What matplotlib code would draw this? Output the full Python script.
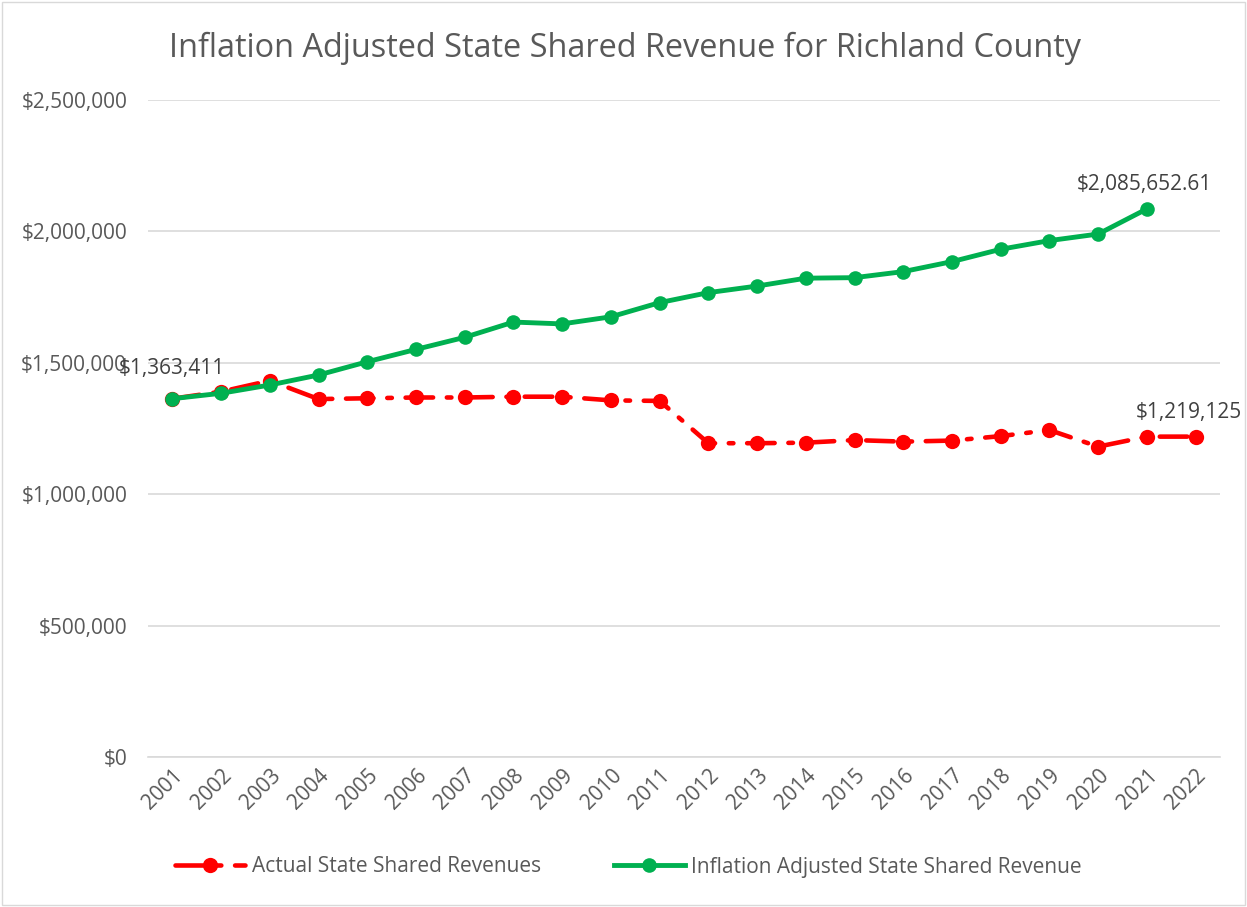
import matplotlib
matplotlib.use("Agg")
import matplotlib.pyplot as plt
from matplotlib.ticker import FuncFormatter, MultipleLocator

years = [str(y) for y in range(2001, 2023)]
actual = [1363411, 1390000, 1432000, 1362000, 1365000, 1368000, 1368000, 1371000,
          1371000, 1357000, 1355000, 1194000, 1194000, 1196000, 1206000, 1200000,
          1204000, 1221000, 1244000, 1181000, 1219000, 1219125]
adjusted = [1363411, 1384000, 1415500, 1453600, 1504000, 1551000, 1597000, 1655000,
            1648000, 1675000, 1729000, 1767000, 1792000, 1822000, 1824000, 1847000,
            1885000, 1932000, 1965000, 1990000, 2085652.61]
title = "Inflation Adjusted State Shared Revenue for Richland County"
label_actual = "Actual State Shared Revenues"
label_adjusted = "Inflation Adjusted State Shared Revenue"

plt.rcParams['font.family'] = ['Open Sans', 'DejaVu Sans']
RED = "#FF0000"
GREEN = "#00B050"
GRAY = "#595959"
FS = 15

fig = plt.figure(figsize=(12.47, 9.07), dpi=100)
ax = fig.add_axes([148/1247, 1-757/907, (1220-148)/1247, (757-100)/907])

x_act = list(range(len(actual)))
x_adj = list(range(len(adjusted)))

ax.plot(x_act, actual, color=RED, lw=3.3, linestyle=(0, (6, 3, 1, 3)),
        marker='o', markersize=11, markeredgewidth=0, label=label_actual,
        dash_capstyle='round', zorder=3)
ax.plot(x_adj, adjusted, color=GREEN, lw=3.5, marker='o', markersize=10.5,
        markeredgewidth=0, label=label_adjusted, zorder=4)

ax.set_xlim(-0.5, len(years) - 0.5)
ax.set_ylim(0, 2500000)
ax.yaxis.set_major_locator(MultipleLocator(500000))
ax.yaxis.set_major_formatter(FuncFormatter(lambda v, p: f"${v:,.0f}"))
ax.set_xticks(range(len(years)))
ax.set_xticklabels(years, rotation=45, ha='right', rotation_mode='anchor')
ax.tick_params(axis='both', length=0, labelsize=FS, colors=GRAY)
ax.tick_params(axis='y', pad=15)
ax.tick_params(axis='x', pad=6)
ax.grid(axis='y', color="#D9D9D9", lw=1.2)
ax.set_axisbelow(True)
for s in ['top', 'right', 'left']:
    ax.spines[s].set_visible(False)
ax.spines['bottom'].set_color("#D9D9D9")
ax.spines['bottom'].set_linewidth(1.2)

# data labels
ax.annotate(f"${adjusted[0]:,.0f}", (x_adj[0], adjusted[0]), xytext=(0, 14),
            textcoords='offset points', ha='center', va='bottom', fontsize=FS, color="#404040")
ax.annotate(f"${adjusted[-1]:,.2f}", (x_adj[-1], adjusted[-1]), xytext=(-2, 10),
            textcoords='offset points', ha='center', va='bottom', fontsize=FS, color="#404040")
ax.annotate(f"${actual[-1]:,.0f}", (x_act[-1], actual[-1]), xytext=(-5, 10),
            textcoords='offset points', ha='center', va='bottom', fontsize=FS, color="#404040")

fig.text(625/1247, 1-48/907, title, ha='center', va='center', fontsize=23.4, color=GRAY)

leg = fig.legend(loc='center', bbox_to_anchor=(628/1247, 1-867/907), ncol=2, frameon=False,
                 fontsize=FS, handlelength=3.4, columnspacing=3.5, handletextpad=0.3)
for t in leg.get_texts():
    t.set_color(GRAY)

fig.patches.append(plt.Rectangle((2/1247, 2/907), 1-4/1247, 1-4/907, transform=fig.transFigure,
                                 fill=False, edgecolor="#D9D9D9", lw=1))

fig.savefig("out.png", dpi=100, facecolor='white')
